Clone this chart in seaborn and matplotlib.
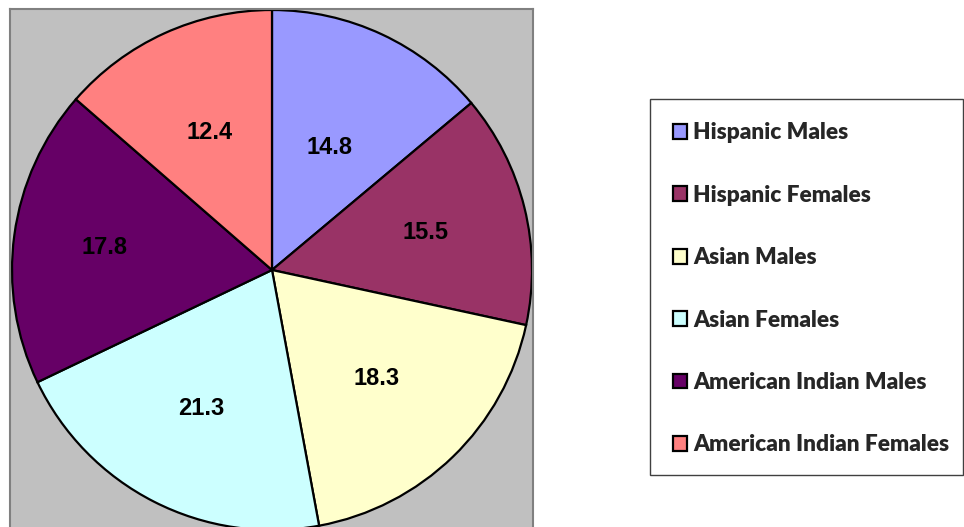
import matplotlib
matplotlib.use("Agg")
import matplotlib.pyplot as plt
import seaborn as sns
import numpy as np
from matplotlib.patches import Rectangle

# data
groups = ["Hispanic Males", "Hispanic Females", "Asian Males",
          "Asian Females", "American Indian Males", "American Indian Females"]
# printed labels on the slices
labels = ["14.8", "15.5", "18.3", "21.3", "17.8", "12.4"]
# slice sizes as drawn (share of the circle, %)
shares = [13.9, 14.5, 18.7, 20.8, 18.5, 13.6]
colors = ["#9999FF", "#993366", "#FFFFCC", "#CCFFFF", "#660066", "#FF8080"]
# how far out each label sits (fraction of radius)
label_r = [0.52, 0.61, 0.58, 0.60, 0.65, 0.58]

sns.set_theme(style="white")
plt.rcParams["font.family"] = ["Liberation Sans", "DejaVu Sans"]

W, H = 964, 527
fig = plt.figure(figsize=(W / 100, H / 100), dpi=100)

# plot area in pixels (grey box), pie centre and radius
left, right, top, bottom = 10, 533, 9, 531
cx, cy, rad = 272, 270, 260
ax = fig.add_axes([left / W, 1 - bottom / H, (right - left) / W, (bottom - top) / H])

wedges, texts = ax.pie(
    shares, colors=colors, startangle=90, counterclock=False,
    labels=labels, labeldistance=0.59,
    wedgeprops=dict(edgecolor="black", linewidth=1.6),
    textprops=dict(fontsize=17, fontweight="bold", color="black",
                   ha="center", va="center"),
)
# nudge the labels in or out along the slice middle
for w, t, r in zip(wedges, texts, label_r):
    mid = np.deg2rad((w.theta1 + w.theta2) / 2)
    t.set_position((r * np.cos(mid), r * np.sin(mid)))
    t.set_horizontalalignment("center")

ax.set_aspect("auto")
ax.set_xlim((left - cx) / rad, (right - cx) / rad)
ax.set_ylim(-(bottom - cy) / rad, (cy - top) / rad)
ax.set_frame_on(True)
ax.set_facecolor("#C0C0C0")
for s in ax.spines.values():
    s.set_visible(True)
    s.set_color("#808080")
    s.set_linewidth(1.5)
ax.set_xticks([])
ax.set_yticks([])

# legend box
fig.patches.append(Rectangle((650 / W, 1 - 475 / H), (963 - 650) / W, (475 - 99) / H,
                             transform=fig.transFigure, facecolor="white",
                             edgecolor="#404040", linewidth=1.0))
leg = fig.legend(wedges, groups, loc="upper left",
                 bbox_to_anchor=(662 / W, 1 - 111 / H), frameon=False,
                 prop=dict(family=["Lato", "DejaVu Sans"], weight="heavy", size=16.3),
                 handlelength=0.62, handleheight=0.62, handletextpad=0.27,
                 labelspacing=1.83, borderpad=0)

fig.savefig("out.png", dpi=100)
